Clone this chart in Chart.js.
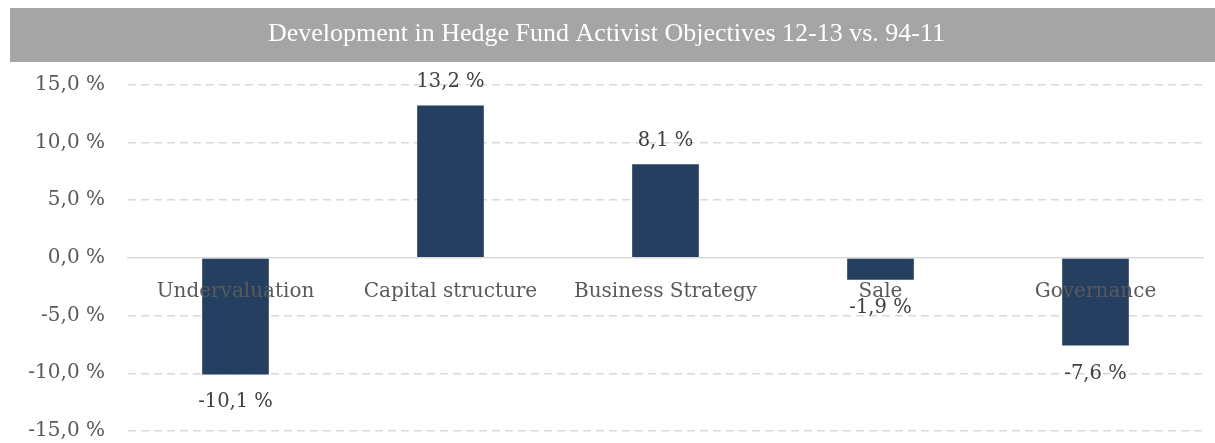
<!DOCTYPE html>
<html>
<head>
<meta charset="utf-8">
<script src="https://cdn.jsdelivr.net/npm/chart.js@4.4.1/dist/chart.umd.min.js"></script>
<style>
  html, body { margin: 0; padding: 0; background: #fff; }
  #wrap { width: 1215px; height: 443px; }
</style>
</head>
<body>
<div id="wrap"><canvas id="objectivesChart"></canvas></div>
<script>
// Change in share of activist objectives, 2012-13 vs. 1994-2011 (percentage points)
const categories = ['Undervaluation', 'Capital structure', 'Business Strategy', 'Sale', 'Governance'];
const changes = [-10.1, 13.2, 8.1, -1.9, -7.6];
const yTicks = { min: -15, max: 15, step: 5 };

const chartTitle = 'Development in Hedge Fund Activist Objectives 12-13 vs. 94-11';
const barColor = '#243F60';
const gridColor = '#D9D9D9';
const serif = '"DejaVu Serif", serif';

function pct(v) {
    return v.toFixed(1).replace('.', ',') + ' %';
}

// grey band behind the title
const titleBand = {
    id: 'titleBand',
    beforeDraw(chart) {
        const t = chart.titleBlock;
        if (!t) return;
        const c = chart.ctx;
        c.save();
        c.fillStyle = '#A5A5A5';
        c.fillRect(10, t.top, chart.width - 10, 54);
        c.restore();
    }
};

// value labels above positive bars and below negative ones
const valueLabels = {
    id: 'valueLabels',
    afterDraw(chart) {
        const c = chart.ctx;
        const meta = chart.getDatasetMeta(0);
        c.save();
        c.font = '19.5px ' + serif;
        c.fillStyle = '#404040';
        c.textAlign = 'center';
        c.textBaseline = 'middle';
        meta.data.forEach((bar, i) => {
            const v = changes[i];
            const y = v >= 0 ? bar.y - 23 : bar.y + 28;
            c.fillText(pct(v), bar.x, y);
        });
        c.restore();
    }
};

new Chart(document.getElementById('objectivesChart'), {
    type: 'bar',
    data: {
        labels: categories,
        datasets: [{
            data: changes,
            backgroundColor: barColor,
            barPercentage: 0.31,
            categoryPercentage: 1
        }]
    },
    options: {
        responsive: true,
        maintainAspectRatio: false,
        animation: false,
        layout: { padding: { top: 8, left: 10, right: 12, bottom: 12 } },
        plugins: {
            legend: { display: false },
            tooltip: { enabled: false },
            title: {
                display: true,
                text: chartTitle,
                color: '#FFFFFF',
                font: { family: '"Liberation Serif", serif', size: 26, weight: 'normal', lineHeight: 1.1 },
                padding: { top: 12, bottom: 36 }
            }
        },
        scales: {
            x: {
                // axis sits on the zero line, labels drawn over the bars
                position: { y: 0 },
                afterFit(scale) {
                    scale.height = 0;
                    scale.paddingLeft = 0;
                    scale.paddingRight = 0;
                },
                grid: { display: false, drawTicks: false },
                border: { display: true, color: gridColor, width: 1.5, z: 1 },
                ticks: {
                    z: 1,
                    color: '#595959',
                    padding: 22,
                    font: { family: serif, size: 20 }
                }
            },
            y: {
                min: yTicks.min,
                max: yTicks.max,
                afterFit(scale) {
                    scale.width = 118;
                    scale.paddingTop = 0;
                    scale.paddingBottom = 0;
                },
                border: { display: false, dash: [8, 5] },
                grid: {
                    drawTicks: false,
                    lineWidth: 1.5,
                    color: ctx => ctx.tick && ctx.tick.value === 0 ? 'rgba(0,0,0,0)' : gridColor
                },
                ticks: {
                    stepSize: yTicks.step,
                    padding: 23,
                    color: '#595959',
                    font: { family: serif, size: 20 },
                    callback: v => pct(v)
                }
            }
        }
    },
    plugins: [titleBand, valueLabels]
});
</script>
</body>
</html>
